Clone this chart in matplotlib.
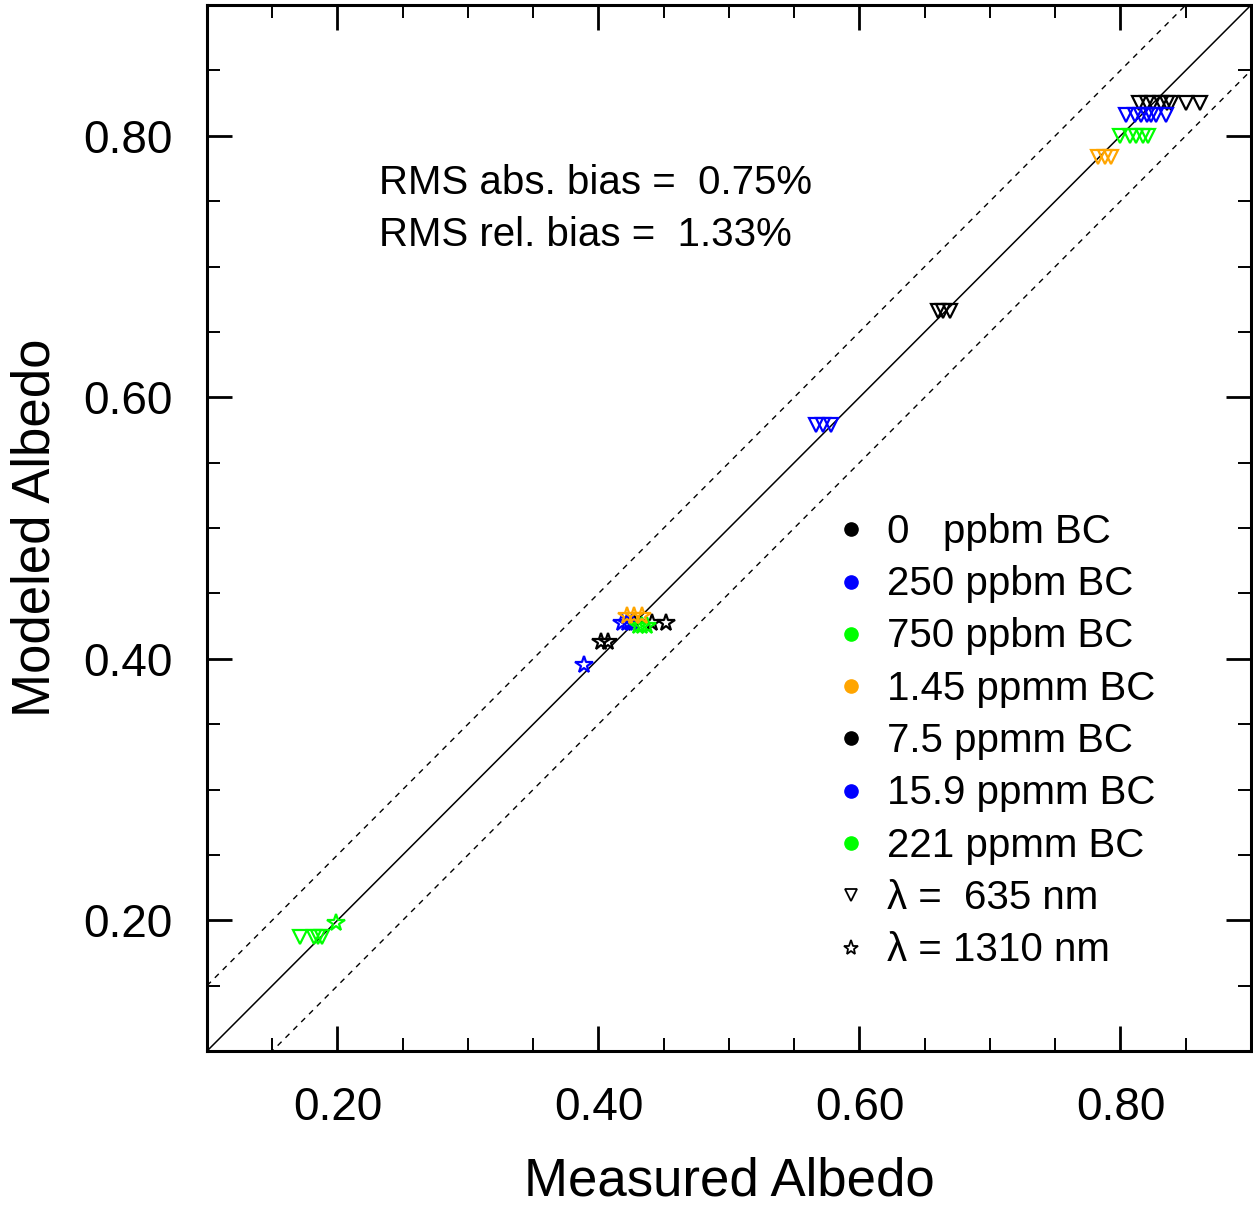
import matplotlib
matplotlib.use("Agg")
import matplotlib.pyplot as plt
from matplotlib.ticker import MultipleLocator, FormatStrFormatter
import numpy as np

plt.rcParams['font.family'] = ['Liberation Sans', 'DejaVu Sans']

# BC loadings, colours and (measured, modeled) albedo
labels = ['0   ppbm BC', '250 ppbm BC', '750 ppbm BC', '1.45 ppmm BC',
          '7.5 ppmm BC', '15.9 ppmm BC', '221 ppmm BC']
colors = ['black', '#0000ff', '#00ff00', '#ffa500', 'black', '#0000ff', '#00ff00']

# lambda = 635 nm
meas_635 = [
    [0.814, 0.820, 0.825, 0.831, 0.836, 0.839, 0.850, 0.861],
    [0.804, 0.811, 0.816, 0.820, 0.823, 0.827, 0.835],
    [0.800, 0.807, 0.812, 0.817, 0.821],
    [0.783, 0.788, 0.793],
    [0.660, 0.664, 0.669],
    [0.567, 0.572, 0.578],
    [0.171, 0.182, 0.185, 0.188],
]
mod_635 = [
    [0.825] * 8,
    [0.816] * 7,
    [0.800] * 5,
    [0.784] * 3,
    [0.666] * 3,
    [0.579] * 3,
    [0.187] * 4,
]

# lambda = 1310 nm
meas_1310 = [
    [0.427, 0.441, 0.452],
    [0.418, 0.422, 0.426],
    [0.430, 0.433, 0.437],
    [0.422, 0.427, 0.433],
    [0.402, 0.407],
    [0.389],
    [0.199],
]
mod_1310 = [
    [0.427] * 3,
    [0.427] * 3,
    [0.425] * 3,
    [0.433] * 3,
    [0.413] * 2,
    [0.395],
    [0.198],
]

rms_abs = 0.75
rms_rel = 1.33

fig = plt.figure(figsize=(12.53, 12.06), dpi=100)
ax = fig.add_axes([0.1652, 0.1285, 0.8332, 0.8673])

# 1:1 line and +/- 0.05 envelope
xx = np.array([0.1, 0.9])
ax.plot(xx, xx, color='black', lw=1.1)
ax.plot(xx, xx + 0.05, color='black', lw=1.0, ls=(0, (4, 4)))
ax.plot(xx, xx - 0.05, color='black', lw=1.0, ls=(0, (4, 4)))

for i in range(len(labels)):
    ax.plot(meas_635[i], mod_635[i], ls='none', marker='v', ms=10.5,
            mfc='none', mec=colors[i], mew=1.6)
    ax.plot(meas_1310[i], mod_1310[i], ls='none', marker='*', ms=13,
            mfc='none', mec=colors[i], mew=1.6)

ax.set_xlim(0.1, 0.9)
ax.set_ylim(0.1, 0.9)

for a in (ax.xaxis, ax.yaxis):
    a.set_major_locator(MultipleLocator(0.2))
    a.set_minor_locator(MultipleLocator(0.05))
    a.set_major_formatter(FormatStrFormatter('%.2f'))
ax.tick_params(which='both', direction='in', top=True, right=True)
ax.tick_params(which='major', length=18, width=2.0, labelsize=33, pad=25)
ax.tick_params(which='minor', length=9.5, width=1.4)
for s in ax.spines.values():
    s.set_linewidth(2.2)

ax.set_xlabel('Measured Albedo', fontsize=38, labelpad=19)
ax.set_ylabel('Modeled Albedo', fontsize=38, labelpad=16)

ax.text(0.2316, 0.7639, 'RMS abs. bias =  %.2f%%' % rms_abs, fontsize=29, va='center')
ax.text(0.2316, 0.7239, 'RMS rel. bias =  %.2f%%' % rms_rel, fontsize=29, va='center')

# legend drawn by hand (no frame, symbols then text)
leg_x0 = 0.6166
leg_tx = 0.651
leg_y0 = 0.4988
dy = 0.0500
for i, lab in enumerate(labels):
    y = leg_y0 - i * dy
    ax.plot([leg_x0], [y], transform=ax.transAxes, marker='o', ms=9.5,
            color=colors[i], ls='none', clip_on=False)
    ax.text(leg_tx, y - 0.0129, lab, transform=ax.transAxes, fontsize=29, va='baseline')
y = leg_y0 - 7 * dy
ax.plot([leg_x0], [y], transform=ax.transAxes, marker='v', ms=9, mfc='none',
        mec='black', mew=1.3, ls='none')
ax.text(leg_tx, y - 0.0129, 'λ =  635 nm', transform=ax.transAxes, fontsize=29, va='baseline')
y = leg_y0 - 8 * dy
ax.plot([leg_x0], [y], transform=ax.transAxes, marker='*', ms=11, mfc='none',
        mec='black', mew=1.3, ls='none')
ax.text(leg_tx, y - 0.0129, 'λ = 1310 nm', transform=ax.transAxes, fontsize=29, va='baseline')

fig.savefig('out.png', dpi=100)
